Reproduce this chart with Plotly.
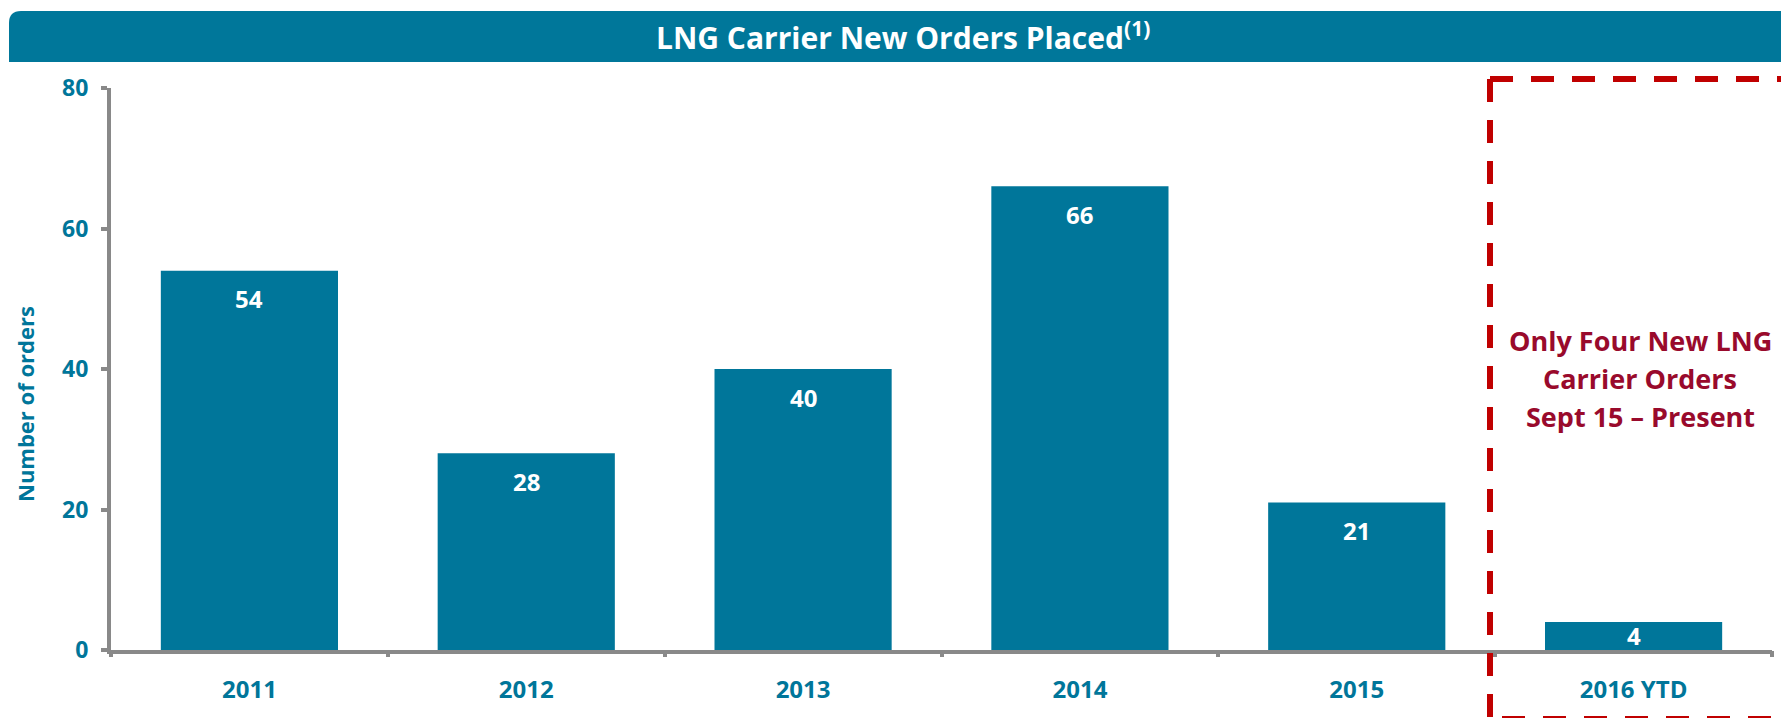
import plotly.graph_objects as go

# ---------------- data ----------------
categories = ["2011", "2012", "2013", "2014", "2015", "2016 YTD"]
orders = [54, 28, 40, 66, 21, 4]
y_ticks = [0, 20, 40, 60, 80]
title_text = "<b>LNG Carrier New Orders Placed<sup>(1)</sup></b>"
y_title = "<b>Number of orders</b>"
callout_lines = ["Only Four New LNG", "Carrier Orders", "Sept 15 – Present"]

# ---------------- style ----------------
BAR = "#00769A"
BLUE_TXT = "#00769A"
GRAY = "#898989"
RED_DASH = "#C00000"
RED_TXT = "#990A2C"
FONT = "Open Sans"

W, H = 1781, 718
PL, PT, PW, PH = 111, 88, 1661, 562


def px_x(x):
    return (x - PL) / PW


def px_y(y):
    return (PT + PH - y) / PH


fig = go.Figure(
    go.Bar(
        x=list(range(len(categories))),
        y=orders,
        width=0.64,
        marker=dict(color=BAR, line=dict(width=0)),
        hoverinfo="skip",
    )
)

# value labels inside bars (positioned by category index on the axis)
for i, v in enumerate(orders):
    big = v >= 10
    fig.add_annotation(
        x=i, y=v if big else v / 2, yshift=-28 if big else 0,
        text=f"<b>{v}</b>", showarrow=False, yanchor="middle", xanchor="center",
        font=dict(family=FONT, size=24, color="white"),
    )

fig.update_xaxes(
    type="linear",
    range=[-0.5, len(categories) - 0.5],
    showline=True, linewidth=4, linecolor=GRAY,
    showticklabels=True,
    ticks="", tickvals=list(range(len(categories))),
    ticktext=[f"<b>{c}</b>" for c in categories],
    tickfont=dict(family=FONT, size=24, color=BLUE_TXT),
    ticklabelstandoff=15,
    showgrid=False, zeroline=False, fixedrange=True,
)
fig.update_yaxes(
    range=[0, 80],
    showline=True, linewidth=4, linecolor=GRAY,
    ticks="outside", ticklen=6, tickwidth=4, tickcolor=GRAY,
    tickvals=y_ticks, ticktext=[f"<b>{t}</b>" for t in y_ticks],
    tickfont=dict(family=FONT, size=23, color=BLUE_TXT),
    ticklabelstandoff=8,
    showgrid=False, zeroline=False, fixedrange=True,
)

# category boundary tick marks drawn on a secondary overlaying axis
fig.update_layout(
    xaxis2=dict(
        overlaying="x", side="bottom", range=[-0.5, len(categories) - 0.5],
        tickvals=[i - 0.5 for i in range(len(categories) + 1)],
        ticks="outside", ticklen=6, tickwidth=4, tickcolor=GRAY,
        showticklabels=False, showgrid=False, zeroline=False, showline=False,
        fixedrange=True,
    )
)
fig.add_trace(go.Scatter(x=[None], y=[None], xaxis="x2", showlegend=False, hoverinfo="skip"))

shapes = []
# title bar with rounded top-left corner
r = 12
x0, x1, y0, y1 = 9, 1795, 11, 62
path = (
    f"M {px_x(x0 + r)},{px_y(y0)} L {px_x(x1)},{px_y(y0)} L {px_x(x1)},{px_y(y1)} "
    f"L {px_x(x0)},{px_y(y1)} L {px_x(x0)},{px_y(y0 + r)} "
    f"Q {px_x(x0)},{px_y(y0)} {px_x(x0 + r)},{px_y(y0)} Z"
)
shapes.append(dict(type="path", xref="paper", yref="paper", path=path,
                   fillcolor="#00779A", line=dict(width=0), layer="above"))

# dashed callout box
cx, cy = 1490, 79
dash_line = dict(color=RED_DASH, width=6, dash="23px,18px")
for p in [
    f"M {px_x(cx)},{px_y(cy)} L {px_x(cx)},{px_y(725)}",
    f"M {px_x(cx)},{px_y(cy)} L {px_x(1800)},{px_y(cy)}",
    f"M {px_x(cx + 12)},{px_y(719)} L {px_x(1800)},{px_y(719)}",
]:
    shapes.append(dict(type="path", xref="paper", yref="paper", path=p, line=dash_line, layer="above"))

annotations = [
    dict(xref="paper", yref="paper", x=px_x(903), y=px_y(36), text=title_text,
         showarrow=False, xanchor="center", yanchor="middle",
         font=dict(family=FONT, size=30, color="white")),
    dict(xref="paper", yref="paper", x=px_x(25), y=px_y(404), text=y_title,
         showarrow=False, textangle=-90, xanchor="center", yanchor="middle",
         font=dict(family=FONT, size=22, color=BLUE_TXT)),
]
for line, yc in zip(callout_lines, [340, 378, 416]):
    annotations.append(dict(xref="paper", yref="paper", x=px_x(1640), y=px_y(yc),
                            text=f"<b>{line}</b>", showarrow=False,
                            xanchor="center", yanchor="middle",
                            font=dict(family=FONT, size=27, color=RED_TXT)))

for a in annotations:
    fig.add_annotation(**a)

fig.update_layout(
    width=W, height=H,
    margin=dict(l=PL, r=W - PL - PW, t=PT, b=H - PT - PH, pad=0),
    paper_bgcolor="white", plot_bgcolor="white",
    shapes=shapes, showlegend=False,
    font=dict(family=FONT),
)

fig.write_html(
    "out.html",
    config={"displayModeBar": False},
    post_script="document.body.style.margin='0';document.body.style.overflow='hidden';",
)
